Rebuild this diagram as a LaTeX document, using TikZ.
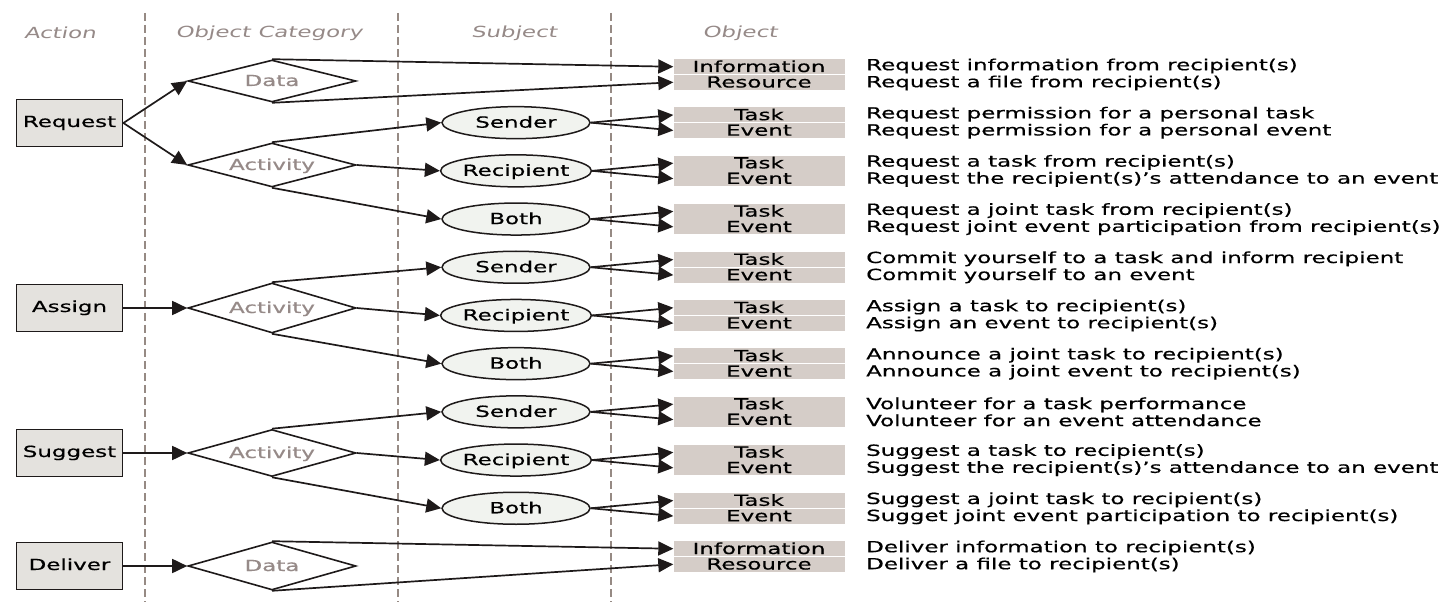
\documentclass[tikz,border=0pt]{standalone}
\usepackage{fontspec}
\setmainfont{DejaVu Sans}[FakeStretch=1.5,FakeBold=0.6]
\newfontfamily\hdrfont{DejaVu Sans}[FakeStretch=1.5,FakeSlant=0.2]
\usetikzlibrary{shapes.geometric,arrows.meta}
\definecolor{ln}{RGB}{30,26,26}
\definecolor{barfill}{RGB}{213,205,200}
\definecolor{actfill}{RGB}{228,226,222}
\definecolor{elfill}{RGB}{241,243,239}
\definecolor{dashc}{RGB}{150,138,132}
\definecolor{graytxt}{RGB}{150,138,136}
\begin{document}
\begin{tikzpicture}[x=1pt,y=-1pt,
  every node/.style={font=\fontsize{15.3}{17}\selectfont},
  actbox/.style={draw=ln, line width=1.8pt, fill=actfill, minimum width=106, minimum height=47, inner sep=0, text height=11, text depth=3},
  catdia/.style={diamond, aspect=3.6, draw=ln, line width=1.6pt, fill=white, minimum width=168, minimum height=46, inner sep=0, text=graytxt, text height=11, text depth=1},
  subjell/.style={ellipse, draw=ln, line width=1.5pt, fill=elfill, minimum width=148, minimum height=32, inner sep=0, text height=11, text depth=1},
  objbar/.style={fill=barfill, minimum width=171, minimum height=15, inner sep=0, text height=11, text depth=0.5},
  desc/.style={anchor=west, align=left, inner sep=0},
  hdr/.style={font=\hdrfont\fontsize{15.3}{17}\selectfont, text=graytxt},
  arr/.style={draw=ln, line width=1.7pt, -{Triangle[length=15pt,width=14pt]}},
  dashline/.style={draw=dashc, line width=1.8pt, dash pattern=on 8pt off 4pt}
]
\useasboundingbox (0,0) rectangle (1450,609);

% column separators
\draw[dashline] (145,13) -- (145,602);
\draw[dashline] (398,13) -- (398,602);
\draw[dashline] (611,13) -- (611,602);

% headers
\node[hdr] (hA) at (60,33) {Action};
\node[hdr] (hC) at (269,33) {Object Category};
\node[hdr] (hS) at (514,33) {Subject};
\node[hdr] (hO) at (740,33) {Object};

% actions
\node[actbox] (req) at (69.5,123) {Request};
\node[actbox] (asg) at (69.5,308) {Assign};
\node[actbox] (sug) at (69.5,453) {Suggest};
\node[actbox] (dlv) at (69.5,566) {Deliver};

% categories
\node[catdia, minimum height=42] (d1) at (272,81) {Data};
\node[catdia, minimum height=44] (d2) at (272,165) {Activity};
\node[catdia, minimum height=50] (d3) at (272,308) {Activity};
\node[catdia, minimum height=47] (d4) at (272,453) {Activity};
\node[catdia, minimum height=48] (d5) at (272,566) {Data};

% object bars and descriptions
\foreach \i/\r/\ta/\tb/\da/\db in {
 1/74.5/Information/Resource/{Request information from recipient(s)}/{Request a file from recipient(s)},
 2/122.7/Task/Event/{Request permission for a personal task}/{Request permission for a personal event},
 3/170.9/Task/Event/{Request a task from recipient(s)}/{Request the recipient(s)'s attendance to an event},
 4/219.1/Task/Event/{Request a joint task from recipient(s)}/{Request joint event participation from recipient(s)},
 5/267.3/Task/Event/{Commit yourself to a task and inform recipient}/{Commit yourself to an event},
 6/315.5/Task/Event/{Assign a task to recipient(s)}/{Assign an event to recipient(s)},
 7/363.7/Task/Event/{Announce a joint task to recipient(s)}/{Announce a joint event to recipient(s)},
 8/411.9/Task/Event/{Volunteer for a task performance}/{Volunteer for an event attendance},
 9/460.1/Task/Event/{Suggest a task to recipient(s)}/{Suggest the recipient(s)'s attendance to an event},
 10/508.3/Task/Event/{Suggest a joint task to recipient(s)}/{Sugget joint event participation to recipient(s)},
 11/556.5/Information/Resource/{Deliver information to recipient(s)}/{Deliver a file to recipient(s)}}{
  \node[objbar] (t\i) at (759,\r-7.75) {\ta};
  \node[objbar] (e\i) at (759,\r+7.75) {\tb};
  \node[desc] (x\i) at (866,\r) {\da\\\db};
}

% subjects
\foreach \i/\lab in {2/Sender,3/Recipient,4/Both,5/Sender,6/Recipient,7/Both,8/Sender,9/Recipient,10/Both}{
  \path (t\i.south) ++(-243,0) node[subjell] (s\i) {\lab};
  \draw[arr] (s\i.east) -- (t\i.west);
  \draw[arr] (s\i.east) -- (e\i.west);
}

% connectors
\draw[arr] (req.east) -- (d1.west);
\draw[arr] (req.east) -- (d2.west);
\draw[arr] (asg.east) -- (d3.west);
\draw[arr] (sug.east) -- (d4.west);
\draw[arr] (dlv.east) -- (d5.west);

\draw[arr] (d1.north) -- (t1.west);
\draw[arr] (d1.south) -- (e1.west);
\draw[arr] (d5.north) -- (t11.west);
\draw[arr] (d5.south) -- (e11.west);

\draw[arr] (d2.north) -- (s2.west);
\draw[arr] (d2.east) -- (s3.west);
\draw[arr] (d2.south) -- (s4.west);
\draw[arr] (d3.north) -- (s5.west);
\draw[arr] (d3.east) -- (s6.west);
\draw[arr] (d3.south) -- (s7.west);
\draw[arr] (d4.north) -- (s8.west);
\draw[arr] (d4.east) -- (s9.west);
\draw[arr] (d4.south) -- (s10.west);
\end{tikzpicture}
\end{document}
